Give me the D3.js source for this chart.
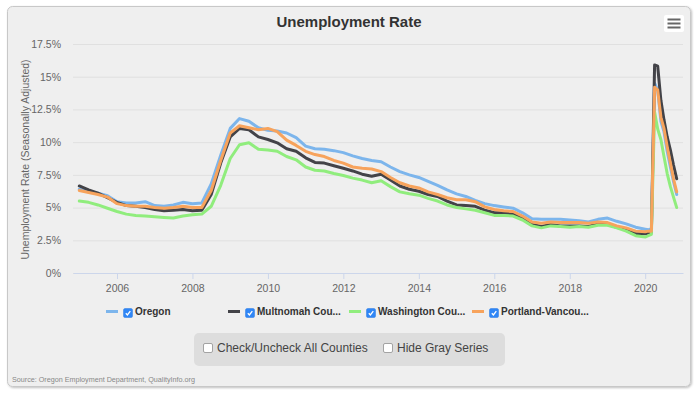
<!DOCTYPE html>
<html>
<head>
<meta charset="utf-8">
<title>Unemployment Rate</title>
<script src="https://cdn.jsdelivr.net/npm/d3@7"></script>
<style>
  body { margin: 0; background: #fff; }
  svg { display: block; font-family: "Liberation Sans", Arial, Helvetica, sans-serif; }
</style>
</head>
<body>
<svg id="svg"></svg>
<script>
// quarterly through 2019, monthly for 2020
var dates = ["2005-01","2005-04","2005-07","2005-10","2006-01","2006-04","2006-07","2006-10",
  "2007-01","2007-04","2007-07","2007-10","2008-01","2008-04","2008-07","2008-10",
  "2009-01","2009-04","2009-07","2009-10","2010-01","2010-04","2010-07","2010-10",
  "2011-01","2011-04","2011-07","2011-10","2012-01","2012-04","2012-07","2012-10",
  "2013-01","2013-04","2013-07","2013-10","2014-01","2014-04","2014-07","2014-10",
  "2015-01","2015-04","2015-07","2015-10","2016-01","2016-04","2016-07","2016-10",
  "2017-01","2017-04","2017-07","2017-10","2018-01","2018-04","2018-07","2018-10",
  "2019-01","2019-04","2019-07","2019-10",
  "2020-01","2020-02","2020-03","2020-04","2020-05","2020-06","2020-07","2020-08","2020-09","2020-10","2020-11"];

var oregon = [6.4,6.2,6.1,5.9, 5.45,5.35,5.35,5.45, 5.15,5.1,5.2,5.4, 5.3,5.35,6.8,9.0,
  11.05,11.8,11.6,11.1, 10.9,10.85,10.7,10.35, 9.7,9.5,9.45,9.35, 9.2,8.95,8.75,8.6,
  8.5,8.1,7.75,7.5, 7.3,7.0,6.7,6.35, 6.05,5.85,5.55,5.3, 5.15,5.05,4.95,4.6,
  4.15,4.1,4.1,4.1, 4.05,4.0,3.9,4.1, 4.2,3.95,3.75,3.5,
  3.35,3.3,3.4,14.5,14.0,11.6,10.8,9.3,8.1,7.0,6.0];

var multnomah = [6.65,6.35,6.1,5.75, 5.4,5.15,5.1,5.0, 4.85,4.75,4.8,4.85, 4.75,4.8,6.0,8.4,
  10.4,11.05,10.95,10.4, 10.2,9.95,9.5,9.3, 8.8,8.45,8.4,8.2, 8.0,7.8,7.55,7.4,
  7.55,7.1,6.65,6.4, 6.25,6.0,5.85,5.5, 5.2,5.15,5.1,4.8, 4.6,4.6,4.5,4.2,
  3.7,3.55,3.7,3.6, 3.6,3.6,3.55,3.75, 3.7,3.5,3.3,3.0,
  3.0,3.05,3.1,15.9,15.8,13.2,11.7,10.4,9.4,8.25,7.2];

var washington = [5.5,5.4,5.2,4.95, 4.7,4.5,4.4,4.35, 4.3,4.25,4.2,4.35, 4.45,4.5,5.1,6.7,
  8.75,9.8,9.95,9.45, 9.4,9.3,8.9,8.65, 8.1,7.85,7.8,7.6, 7.45,7.25,7.1,6.9,
  7.05,6.6,6.2,6.05, 5.95,5.7,5.5,5.2, 5.0,4.9,4.8,4.6, 4.4,4.4,4.35,4.05,
  3.6,3.45,3.6,3.55, 3.5,3.55,3.5,3.65, 3.65,3.45,3.2,2.85,
  2.75,2.85,2.95,12.3,11.0,10.2,8.9,7.6,6.6,5.8,5.0];

var portland = [6.3,6.15,6.0,5.8, 5.3,5.15,5.1,5.1, 5.0,4.95,5.0,5.1, 5.0,5.0,6.3,8.6,
  10.7,11.25,11.1,10.95, 11.05,10.8,10.15,9.75, 9.3,9.05,8.9,8.6, 8.4,8.1,8.0,7.95,
  7.75,7.3,6.9,6.65, 6.5,6.2,6.0,5.75, 5.6,5.6,5.45,5.05, 4.85,4.75,4.7,4.35,
  3.9,3.8,3.9,3.85, 3.85,3.85,3.8,3.9, 3.85,3.6,3.45,3.2,
  3.15,3.2,3.2,14.2,14.0,11.9,11.05,9.65,8.4,7.2,6.2];

var seriesNames = ["Oregon", "Multnomah Cou...", "Washington Cou...", "Portland-Vancou..."];
var seriesValues = [oregon, multnomah, washington, portland];
var colors = ["#7cb5ec", "#434348", "#90ed7d", "#f7a35c"];
var yTicks = [0, 2.5, 5, 7.5, 10, 12.5, 15, 17.5];
var xTicks = ["2006", "2008", "2010", "2012", "2014", "2016", "2018", "2020"];

var width = 700, height = 396,
    plot = {left: 73, right: 683, top: 44, bottom: 273};

var parseMonth = d3.timeParse("%Y-%m"),
    parseYear = d3.timeParse("%Y");

var svg = d3.select("#svg").attr("width", width).attr("height", height);

// panel + shadow
var defs = svg.append("defs");
var f = defs.append("filter").attr("id", "shadow").attr("x", "-5%").attr("y", "-5%").attr("width", "110%").attr("height", "110%");
f.append("feDropShadow").attr("dx", 1).attr("dy", 1).attr("stdDeviation", 1.2).attr("flood-color", "#000").attr("flood-opacity", 0.25);

svg.append("rect")
  .attr("x", 7.5).attr("y", 6.5).attr("width", 683).attr("height", 380)
  .attr("rx", 5)
  .attr("fill", "#efefef")
  .attr("stroke", "#c8c8c8")
  .attr("filter", "url(#shadow)");

// title
svg.append("text")
  .attr("x", 349).attr("y", 27)
  .attr("text-anchor", "middle")
  .attr("font-size", 15).attr("font-weight", "bold").attr("fill", "#333")
  .text("Unemployment Rate");

// menu button
var menu = svg.append("g").attr("transform", "translate(664,15)");
menu.append("rect").attr("width", 20).attr("height", 17).attr("rx", 2).attr("fill", "#fff");
[5, 9, 13].forEach(function(y) {
  menu.append("line").attr("x1", 3.5).attr("x2", 16.5).attr("y1", y - 0.5).attr("y2", y - 0.5)
    .attr("stroke", "#666").attr("stroke-width", 2);
});

// scales
var x = d3.scaleTime()
  .domain([parseMonth("2004-11"), parseMonth("2021-01")])
  .range([plot.left, plot.right]);
var y = d3.scaleLinear().domain([0, 17.5]).range([plot.bottom, plot.top]);

// gridlines + y labels
var yAxis = d3.axisLeft(y)
  .tickValues(yTicks)
  .tickSize(-(plot.right - plot.left))
  .tickPadding(12)
  .tickFormat(function(d) { return d + "%"; });

var gy = svg.append("g").attr("transform", "translate(" + plot.left + ",0)").call(yAxis);
gy.select(".domain").remove();
gy.selectAll(".tick line").attr("stroke", "#e0e0e0");
gy.selectAll(".tick text").attr("font-size", 10.5).attr("fill", "#666")
  .attr("font-family", "'Liberation Sans', Arial, sans-serif");

// x axis
var xAxis = d3.axisBottom(x)
  .tickValues(xTicks.map(function(d) { return parseYear(d); }))
  .tickFormat(d3.timeFormat("%Y"))
  .tickSize(6)
  .tickSizeOuter(0)
  .tickPadding(6);

var gx = svg.append("g").attr("transform", "translate(0," + plot.bottom + ")").call(xAxis);
gx.select(".domain").attr("stroke", "#ccd6eb");
gx.selectAll(".tick line").attr("stroke", "#ccd6eb");
gx.selectAll(".tick text").attr("font-size", 10.5).attr("fill", "#666")
  .attr("font-family", "'Liberation Sans', Arial, sans-serif");

// y axis title
svg.append("text")
  .attr("transform", "translate(29," + ((plot.top + plot.bottom) / 2 + 1) + ")rotate(-90)")
  .attr("text-anchor", "middle")
  .attr("font-size", 10.5).attr("fill", "#666")
  .text("Unemployment Rate (Seasonally Adjusted)");

// lines
var line = d3.line()
  .x(function(d, i) { return x(parseMonth(dates[i])); })
  .y(function(d) { return y(d); });

svg.append("g").selectAll("path")
  .data(seriesValues)
  .enter().append("path")
  .attr("d", line)
  .attr("fill", "none")
  .attr("stroke", function(d, i) { return colors[i]; })
  .attr("stroke-width", 3)
  .attr("stroke-linejoin", "round")
  .attr("stroke-linecap", "round");

// legend
function checkbox(g, cx, cy, checked) {
  g.append("rect")
    .attr("x", cx).attr("y", cy).attr("width", 9).attr("height", 9).attr("rx", 1.5)
    .attr("fill", checked ? "#2f86f6" : "#fff")
    .attr("stroke", checked ? "#2a7be4" : "#8f8f8f").attr("stroke-width", checked ? 0.5 : 0.8);
  if (checked) {
    g.append("path")
      .attr("d", "M" + (cx + 2.3) + "," + (cy + 4.8) + "L" + (cx + 3.9) + "," + (cy + 6.5) + "L" + (cx + 6.8) + "," + (cy + 2.6))
      .attr("fill", "none").attr("stroke", "#fff").attr("stroke-width", 1.3);
  }
}

var legendX = [106, 228, 349, 472];
var legend = svg.append("g");
seriesNames.forEach(function(name, i) {
  var lx = legendX[i];
  legend.append("line")
    .attr("x1", lx).attr("x2", lx + 12).attr("y1", 311.5).attr("y2", 311.5)
    .attr("stroke", colors[i]).attr("stroke-width", 3);
  checkbox(legend, lx + 17.5, 308.5, true);
  legend.append("text")
    .attr("x", lx + 29).attr("y", 315)
    .attr("font-size", 10).attr("font-weight", "bold").attr("fill", "#333")
    .text(name);
});

// controls box
svg.append("rect")
  .attr("x", 194).attr("y", 333).attr("width", 311).attr("height", 33).attr("rx", 5)
  .attr("fill", "#dddddd");
checkbox(svg, 203.5, 343.5, false);
svg.append("text").attr("x", 217).attr("y", 351.5)
  .attr("font-size", 12).attr("fill", "#444").text("Check/Uncheck All Counties");
checkbox(svg, 383.5, 343.5, false);
svg.append("text").attr("x", 397).attr("y", 351.5)
  .attr("font-size", 12).attr("fill", "#444").text("Hide Gray Series");

// source
svg.append("text")
  .attr("x", 12).attr("y", 382)
  .attr("font-size", 7.2).attr("fill", "#888")
  .text("Source: Oregon Employment Department, QualityInfo.org");
</script>
</body>
</html>
